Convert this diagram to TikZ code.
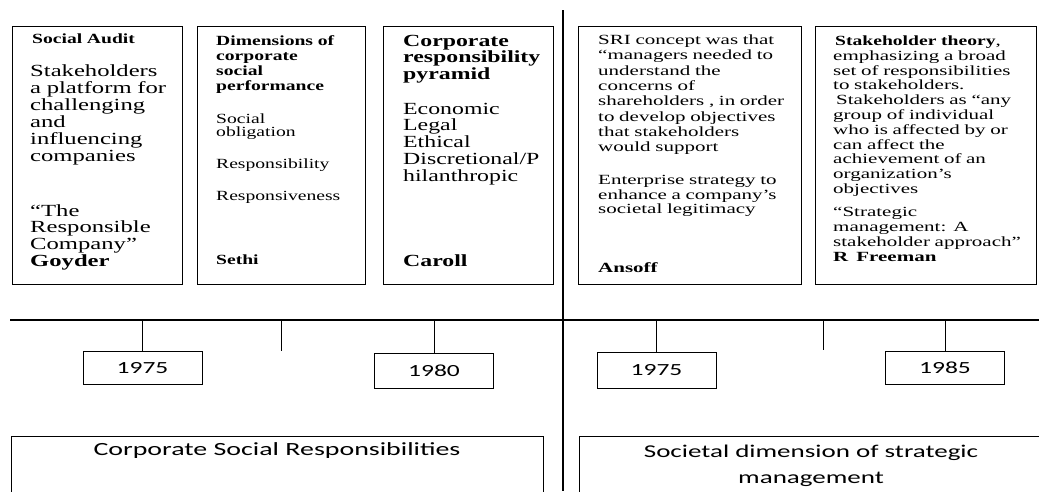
\documentclass[tikz,border=0pt]{standalone}
\usepackage{fontspec}
\newfontfamily\tnrB[FakeStretch=1.4]{Liberation Serif}
\newfontfamily\tnrD[FakeStretch=1.45]{Liberation Serif}
\newfontfamily\tnrC[FakeStretch=1.5]{Liberation Serif}
\newfontfamily\calibf[FakeStretch=1.5]{Carlito}
\newcommand{\fs}[3]{#1\fontsize{#2}{#3}\selectfont}
\tikzset{
  x=1pt, y=-1pt,
  card/.style={draw, line width=1.2pt, anchor=north west, inner sep=0pt},
  yearbox/.style={draw, line width=1pt, minimum width=119pt, minimum height=33pt, inner sep=0pt, font=\fs\calibf{17}{18}},
  bigbox/.style={draw, line width=1.2pt, anchor=north west, inner sep=0pt},
  tx/.style={anchor=base west, inner sep=0pt, text width=230pt, align=left},
  tick/.style={line width=1pt},
}
\begin{document}
\begin{tikzpicture}
\useasboundingbox (0,0) rectangle (1039,491);
\clip (0,0) rectangle (1039,491);
% cards
\node[card, minimum width=170pt, minimum height=258pt] (c1) at (12,26) {};
\node[card, minimum width=168pt, minimum height=258pt] (c2) at (197,26) {};
\node[card, minimum width=170pt, minimum height=258pt] (c3) at (383,26) {};
\node[card, minimum width=223pt, minimum height=258pt] (c4) at (578,26) {};
\node[card, minimum width=221pt, minimum height=258pt] (c5) at (815,26) {};
% card 1
\node[tx, font={\fs\tnrB{14}{15}\bfseries}] (t1a) at (32,43.5) {Social Audit};
\node[tx, font={\fs\tnrD{17}{17}}] (t1b) at (30,76) {Stakeholders\\a platform for\\challenging\\and\\influencing\\companies};
\node[tx, font={\fs\tnrD{17}{16.7}}] (t1c) at (30,216) {“The\\Responsible\\Company”\\\textbf{Goyder}};
% card 2
\node[tx, font={\fs\tnrB{14}{15}\bfseries}] (t2a) at (216,45.5) {Dimensions of\\corporate\\social\\performance};
\node[tx, font={\fs\tnrB{14}{13}}] (t2b) at (216,123.5) {Social\\obligation};
\node[tx, font={\fs\tnrB{14}{15}}] (t2c) at (216,168.5) {Responsibility};
\node[tx, font={\fs\tnrB{14}{15}}] (t2d) at (216,200.5) {Responsiveness};
\node[tx, font={\fs\tnrB{14}{15}\bfseries}] (t2e) at (216,264.5) {Sethi};
% card 3
\node[tx, font={\fs\tnrB{17}{16.5}\bfseries}] (t3a) at (403,46) {Corporate\\responsibility\\pyramid};
\node[tx, font={\fs\tnrB{17}{16.8}}] (t3b) at (403,114) {Economic\\Legal\\Ethical\\Discretional/P\\hilanthropic};
\node[tx, font={\fs\tnrB{17}{18}\bfseries}] (t3c) at (403,266) {Caroll};
% card 4
\node[tx, font={\fs\tnrC{14}{15.3}}] (t4a) at (598,44.5) {SRI concept was that\\“managers needed to\\understand the\\concerns of\\shareholders , in order\\to develop objectives\\that stakeholders\\would support};
\node[tx, font={\fs\tnrC{14}{14.5}}] (t4b) at (598,184.5) {Enterprise strategy to\\enhance a company’s\\societal legitimacy};
\node[tx, font={\fs\tnrC{14}{15}\bfseries}] (t4c) at (598,272.5) {Ansoff};
% card 5
\node[tx, font={\fs\tnrC{14}{14.8}}] (t5a) at (833,45.5) {\hspace*{2pt}{\tnrB\bfseries Stakeholder theory},\\emphasizing a broad\\set of responsibilities\\to stakeholders.\\\hspace*{3pt}Stakeholders as “any\\group of individual\\who is affected by or\\can affect the\\achievement of an\\organization’s\\objectives};
\node[tx, font={\fs\tnrC{14}{15}}] (t5b) at (833,216.5) {“Strategic\\management: A\\stakeholder approach”\\\textbf{R\hspace{8pt}Freeman}};
% main lines
\coordinate (vtop) at (563,10);
\coordinate (vbot) at (563,491);
\draw[line width=2.6pt] (vtop) -- (vbot);
\coordinate (hl) at (10,320);
\coordinate (hr) at (1039,320);
\draw[line width=2pt] (hl) -- (hr);
% year boxes
\node[yearbox] (y1) at (142.5,368) {1975};
\node[yearbox, minimum height=35pt] (y2) at (434,370.5) {1980};
\node[yearbox, minimum height=36pt] (y3) at (656.5,370) {1975};
\node[yearbox] (y4) at (945,368) {1985};
% ticks
\coordinate (k1) at (142.5,320);
\coordinate (k2) at (281,320);
\coordinate (k2e) at (281,351);
\coordinate (k3) at (434,320);
\coordinate (k4) at (656.5,320);
\coordinate (k5) at (823,320);
\coordinate (k5e) at (823,350);
\coordinate (k6) at (945,320);
\draw[tick] (k1) -- (y1.north);
\draw[tick] (k2) -- (k2e);
\draw[tick] (k3) -- (y2.north);
\draw[tick] (k4) -- (y3.north);
\draw[tick] (k5) -- (k5e);
\draw[tick] (k6) -- (y4.north);
% bottom boxes
\node[bigbox, minimum width=532pt, minimum height=100pt] (b1) at (11,436) {};
\node[bigbox, minimum width=500pt, minimum height=100pt] (b2) at (579,436) {};
\node[inner sep=0pt, font=\fs\calibf{18.6}{26}] (b1t) at (277,451) {Corporate Social Responsibilities};
\node[inner sep=0pt, align=center, font=\fs\calibf{18}{26}] (b2t) at (811,466) {Societal dimension of strategic\\management};
\end{tikzpicture}
\end{document}
